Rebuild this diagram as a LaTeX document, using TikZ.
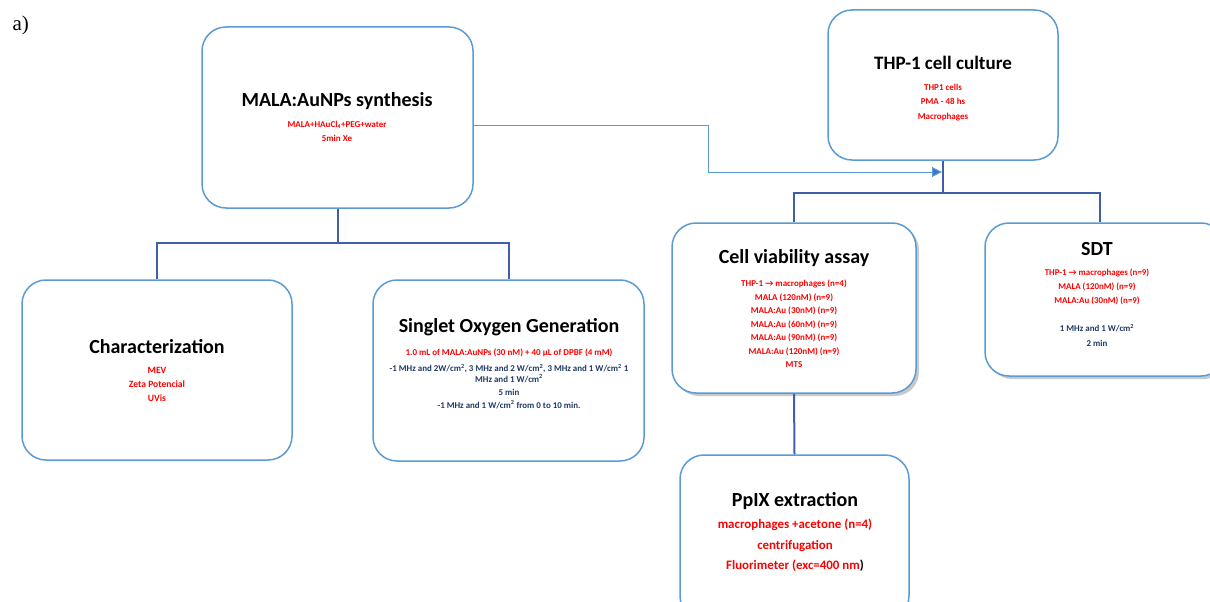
\documentclass[tikz,border=0pt]{standalone}
\usepackage{fontspec}
\setmainfont{Carlito}
\newfontfamily\serif{Liberation Serif}
\usetikzlibrary{shadows,arrows.meta}
\definecolor{boxblue}{HTML}{5B9BD5}
\definecolor{linkblue}{HTML}{3F5FA8}
\definecolor{arrblue}{HTML}{4472C4}
\definecolor{txtred}{HTML}{FF0000}
\definecolor{txtblue}{HTML}{1F3864}
\tikzset{
  box/.style={draw=boxblue, line width=1.5pt, rounded corners=24pt, fill=white, inner sep=0pt},
  shbox/.style={box, drop shadow={shadow xshift=3pt, shadow yshift=-3pt, opacity=0.35, fill=black!60}},
  title/.style={font=\fontsize{20}{24}\selectfont\bfseries, anchor=center},
  small/.style={font=\fontsize{9}{14}\selectfont\bfseries, text=txtred, align=center, anchor=north},
  link/.style={draw=linkblue, line width=2pt},
}
\begin{document}
\begin{tikzpicture}[x=1pt,y=-1pt]
\useasboundingbox (0,0) rectangle (1210,602);
\fill[white] (0,0) rectangle (1210,602);
\node[font=\serif\fontsize{21}{24}\selectfont, anchor=west] (lab) at (9,25) {a)};

% boxes
\node[box, minimum width=271pt, minimum height=181pt] (mala) at (337.5,117.5) {};
\node[box, minimum width=230pt, minimum height=150pt] (thp) at (943,85) {};
\node[box, minimum width=270pt, minimum height=180pt] (char) at (157,370) {};
\node[box, minimum width=271pt, minimum height=181pt] (sog) at (508.5,370.5) {};
\node[shbox, minimum width=244pt, minimum height=170pt] (cva) at (794,308) {};
\node[shbox, minimum width=240pt, minimum height=153pt] (sdt) at (1105,299.5) {};
\node[box, minimum width=229pt, minimum height=165pt] (ppix) at (794.5,537.5) {};

% connectors
\coordinate (m1) at (157,243);
\coordinate (m2) at (509,243);
\draw[link] (mala.south) -- (mala.south |- m1);
\draw[link] (char.north -| m1) -- (m1) -- (m2) -- (sog.north -| m2);
\coordinate (t1) at (794,193);
\coordinate (t2) at (1100,193);
\draw[link] (thp.south) -- (thp.south |- t1);
\draw[link] (cva.north -| t1) -- (t1) -- (t2) -- (sdt.north -| t2);
\draw[link] (cva.south) -- (ppix.north);
\coordinate (a1) at (708,125);
\coordinate (a2) at (708,172);
\coordinate (a3) at (942,172);
\draw[draw=boxblue, line width=1pt, -{Triangle[length=10pt,width=10pt,fill=arrblue]}] (mala.east |- a1) -- (a1) -- (a2) -- (a3);

% texts
\node[title] (tmala) at (337,101) {MALA:AuNPs synthesis};
\node[small] (smala) at (337,118) {MALA+HAuCl\textsubscript{4}+PEG+water\\5min Xe};

\node[title, font=\fontsize{19}{24}\selectfont\bfseries] (tthp) at (943,63) {THP-1 cell culture};
\node[small, font=\fontsize{9}{14.5}\selectfont\bfseries] (sthp) at (943,80.5) {THP1 cells\\PMA - 48 hs\\Macrophages};

\node[title] (tchar) at (157,347) {Characterization};
\node[small, font=\fontsize{9.6}{14}\selectfont\bfseries] (schar) at (157,364) {MEV\\Zeta Potencial\\UVis};

\node[title] (tsog) at (509,327) {Singlet Oxygen Generation};
\node[small, font=\fontsize{9}{13}\selectfont\bfseries] (ssog) at (509,345.5) {1.0 mL of MALA:AuNPs (30 nM) + 40 µL of DPBF (4 mM)};
\node[small, font=\fontsize{8.9}{10.5}\selectfont\bfseries, text=txtblue] (bsog) at (509,360.5) {-1 MHz and 2W/cm\textsuperscript{2}, 3 MHz and 2 W/cm\textsuperscript{2}, 3 MHz and 1 W/cm\textsuperscript{2} 1\\MHz and 1 W/cm\textsuperscript{2}\\[2.5pt]5 min\\[2.5pt]-1 MHz and 1 W/cm\textsuperscript{2} from 0 to 10 min.};

\node[title] (tcva) at (794,258) {Cell viability assay};
\node[small, font=\fontsize{9}{13.5}\selectfont\bfseries] (scva) at (794,276.5) {THP-1 → macrophages (n=4)\\MALA (120nM) (n=9)\\MALA:Au (30nM) (n=9)\\MALA:Au (60nM) (n=9)\\MALA:Au (90nM) (n=9)\\MALA:Au (120nM) (n=9)\\MTS};

\node[title] (tsdt) at (1097,249) {SDT};
\node[small, font=\fontsize{8.9}{14}\selectfont\bfseries] (ssdt) at (1097,265.5) {THP-1 → macrophages (n=9)\\MALA (120nM) (n=9)\\MALA:Au (30nM) (n=9)};
\node[small, font=\fontsize{8.9}{14.5}\selectfont\bfseries, text=txtblue] (bsdt) at (1097,320.5) {1 MHz and 1 W/cm\textsuperscript{2}\\2 min};

\node[title] (tppix) at (795,501) {PpIX extraction};
\node[small, font=\fontsize{12.9}{20.5}\selectfont\bfseries] (sppix) at (795,515.5) {macrophages +acetone (n=4)\\centrifugation\\Fluorimeter (exc=400 nm\textcolor{black}{)}};
\end{tikzpicture}
\end{document}
